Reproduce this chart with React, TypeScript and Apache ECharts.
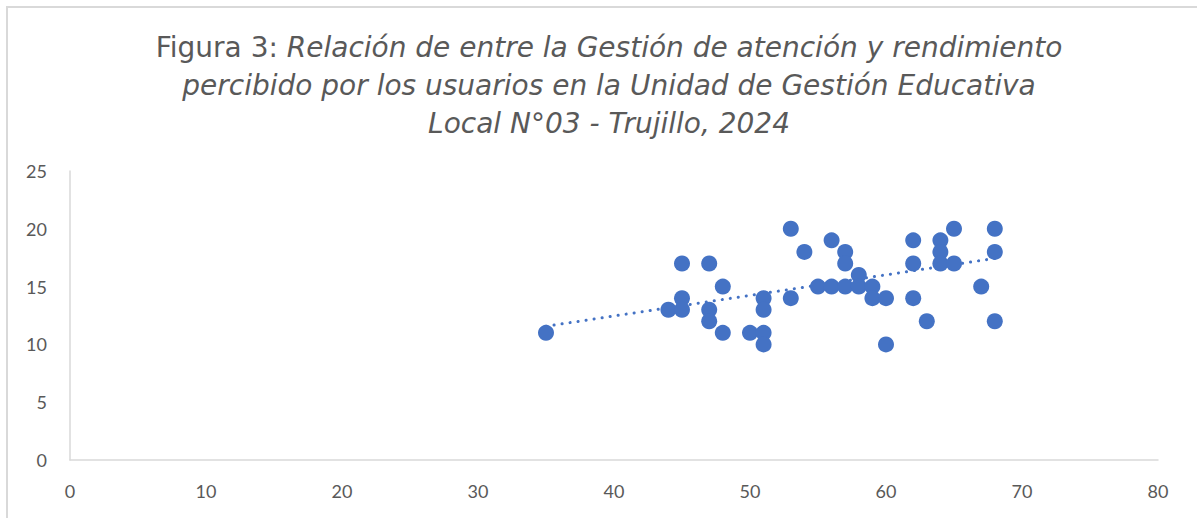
import React, { useEffect, useRef } from "react";
import * as echarts from "echarts";

const gestionAtencion = [
  35, 44, 45, 45, 45, 47, 47, 47, 48, 48, 50, 51, 51, 51, 51, 53, 53, 54, 55, 56, 56,
  57, 57, 57, 58, 58, 59, 59, 60, 60, 62, 62, 62, 63, 64, 64, 64, 65, 65, 67, 68, 68, 68,
];
const rendimiento = [
  11, 13, 17, 14, 13, 17, 13, 12, 15, 11, 11, 14, 13, 11, 10, 20, 14, 18, 15, 19, 15,
  18, 17, 15, 16, 15, 15, 14, 14, 10, 19, 17, 14, 12, 19, 18, 17, 20, 17, 15, 20, 18, 12,
];
const trendX = [35, 68];
const trendY = [11.57, 17.44];

const titleLines = [
  "Relación de entre la Gestión de atención y rendimiento",
  "percibido por los usuarios en la Unidad de Gestión Educativa",
  "Local N°03 - Trujillo, 2024",
];

export default function App() {
  const ref = useRef<HTMLDivElement>(null);
  useEffect(() => {
    if (!ref.current) return;
    const chart = echarts.init(ref.current, undefined, { renderer: "svg" });
    const labelColor = "#595959";
    const axisColor = "#d9d9d9";
    const titleFont = {
      fontFamily: "DejaVu Sans",
      fontSize: 28,
      fontWeight: "normal",
      color: labelColor,
      lineHeight: 38,
    };
    chart.setOption({
      animation: false,
      backgroundColor: "transparent",
      title: {
        text:
          "{a|Figura 3: }{b|" + titleLines[0] + "}\n{b|" + titleLines[1] + "}\n{b|" + titleLines[2] + "}",
        left: 604,
        top: 23,
        textAlign: "center",
        textStyle: {
          fontWeight: "normal",
          rich: {
            a: { ...titleFont },
            b: { ...titleFont, fontStyle: "italic" },
          },
        },
      },
      grid: { left: 70, right: 39, top: 171, bottom: 58, containLabel: false },
      xAxis: {
        type: "value",
        min: 0,
        max: 80,
        interval: 10,
        splitLine: { show: false },
        axisTick: { show: false },
        axisLine: { show: true, lineStyle: { color: axisColor, width: 1.5 } },
        axisLabel: { color: labelColor, fontSize: 18, fontFamily: "Lato", margin: 22 },
      },
      yAxis: {
        type: "value",
        min: 0,
        max: 25,
        interval: 5,
        splitLine: { show: false },
        axisTick: { show: false },
        axisLine: { show: true, lineStyle: { color: axisColor, width: 1.5 } },
        axisLabel: { color: labelColor, fontSize: 18, fontFamily: "Lato", margin: 23 },
      },
      series: [
        {
          type: "line",
          data: trendX.map((x, i) => [x, trendY[i]]),
          symbol: "none",
          z: 1,
          lineStyle: { color: "#4472C4", width: 3, type: [0.1, 8], cap: "round" },
        },
        {
          type: "scatter",
          data: gestionAtencion.map((x, i) => [x, rendimiento[i]]),
          symbol: "circle",
          symbolSize: 16,
          z: 2,
          itemStyle: { color: "#4472C4", opacity: 1 },
        },
      ],
    });
    return () => chart.dispose();
  }, []);
  return (
    <div style={{ position: "fixed", left: 0, top: 0, width: 1197, height: 518, background: "#fff", overflow: "hidden" }}>
      <div
        style={{
          position: "absolute",
          left: 6,
          top: 6,
          width: 1210,
          height: 530,
          border: "2px solid #d9d9d9",
          boxSizing: "border-box",
        }}
      />
      <div ref={ref} style={{ position: "absolute", left: 0, top: 0, width: 1197, height: 518 }} />
    </div>
  );
}
